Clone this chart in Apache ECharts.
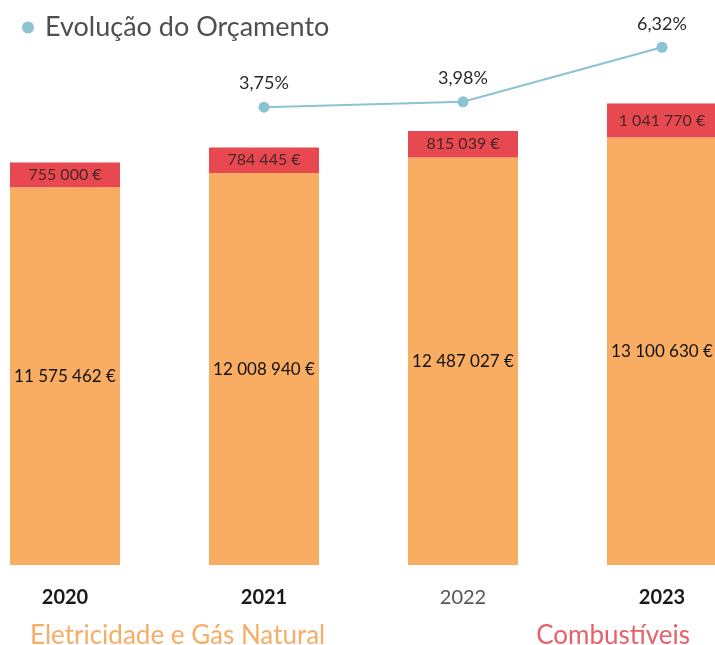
<!DOCTYPE html>
<html>
<head>
<meta charset="utf-8">
<script src="https://cdn.jsdelivr.net/npm/echarts@6/dist/echarts.min.js"></script>
<style>
  html, body { margin: 0; padding: 0; background: #fff; }
  #chart { width: 715px; height: 645px; }
</style>
</head>
<body>
<div id="chart"></div>
<script>
// dados do gráfico
var anos = ["2020", "2021", "2022", "2023"];
var eletricidade = [11575462, 12008940, 12487027, 13100630];
var combustiveis = [755000, 784445, 815039, 1041770];
var evolucao = [null, 3.75, 3.98, 6.32];

function euros(v) {
    return String(v).replace(/\B(?=(\d{3})+(?!\d))/g, " ") + " €";
}

var chart = echarts.init(document.getElementById("chart"));
chart.setOption({
    textStyle: { fontFamily: "Lato" },
    animation: false,
    legend: [
        {
            left: 17,
            top: 9,
            itemWidth: 12,
            itemHeight: 12,
            itemGap: 10,
            textStyle: { fontSize: 27, color: "#4f4f4f", fontFamily: "Lato", padding: [0, 0, 0, 6] },
            data: [{ name: "Evolução do Orçamento", icon: "circle" }]
        },
        {
            left: 20,
            top: 618,
            icon: "none",
            itemWidth: 0,
            itemGap: 206,
            selectedMode: false,
            textStyle: { fontSize: 26, fontFamily: "Lato" },
            data: [
                { name: "Eletricidade e Gás Natural", textStyle: { color: "#f7ad66" } },
                { name: "Combustíveis", textStyle: { color: "#e8616a" } }
            ]
        }
    ],
    grid: { left: 65, right: 53, top: 20, bottom: 80 },
    xAxis: {
        type: "category",
        data: anos,
        boundaryGap: false,
        axisLine: { show: false },
        axisTick: { show: false },
        axisLabel: {
            margin: 23,
            fontSize: 20,
            fontWeight: "bold",
            color: "#1a1a1a",
            fontFamily: "Lato",
            formatter: function (v) { return v === "2022" ? "{c|" + v + "}" : v; },
            rich: {
                c: { fontSize: 20, fontWeight: "normal", color: "#555", fontFamily: "Lato" }
            }
        }
    },
    yAxis: [
        { type: "value", min: 0, max: 16700000, show: false },
        { type: "value", min: -15.9, max: 7.49, show: false }
    ],
    series: [
        {
            name: "Eletricidade e Gás Natural",
            type: "bar",
            stack: "total",
            barWidth: 110,
            clip: false,
            itemStyle: { color: "#f9ad62" },
            label: {
                show: true,
                position: "inside",
                color: "#111",
                fontSize: 17,
                formatter: function (p) { return euros(p.value); }
            },
            data: eletricidade
        },
        {
            name: "Combustíveis",
            type: "bar",
            stack: "total",
            barWidth: 110,
            clip: false,
            itemStyle: { color: "#e8484f" },
            label: {
                show: true,
                position: "inside",
                color: "#4a2626",
                fontSize: 16,
                formatter: function (p) { return euros(p.value); }
            },
            data: combustiveis
        },
        {
            name: "Evolução do Orçamento",
            type: "line",
            yAxisIndex: 1,
            clip: false,
            symbol: "circle",
            symbolSize: 11,
            lineStyle: { color: "#8cc3d3", width: 2 },
            itemStyle: { color: "#8cc3d3" },
            label: {
                show: true,
                position: "top",
                distance: 9,
                color: "#2a2a2a",
                fontSize: 18,
                formatter: function (p) { return p.value.toFixed(2).replace(".", ",") + "%"; }
            },
            data: evolucao
        }
    ]
});
</script>
</body>
</html>
